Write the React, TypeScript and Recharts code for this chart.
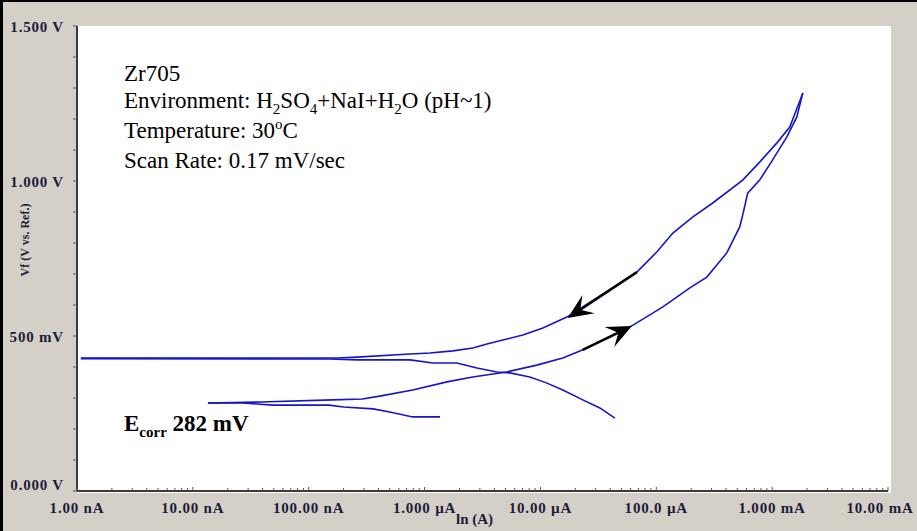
import React from 'react';
import { LineChart, Line, XAxis, YAxis, ReferenceLine } from 'recharts';

// forward scan, cathodic part (start potential down to the current minimum)
const fwdCathodicI = [1.36e-6, 7.9e-7, 5.0e-7, 3.6e-7, 2.0e-7, 1.5e-7, 4.9e-8, 2.7e-8, 1.35e-8];
const fwdCathodicV = [0.239, 0.239, 0.255, 0.265, 0.271, 0.277, 0.277, 0.284, 0.284];

// forward scan, anodic part up to the vertex
const fwdAnodicI = [
  1.35e-8, 3.8e-8, 1.6e-7, 2.9e-7, 4.1e-7, 7.9e-7, 1.56e-6, 2.6e-6, 5.1e-6, 9.3e-6, 1.56e-5, 2.3e-5,
  6.3e-5, 1.14e-4, 1.95e-4, 2.73e-4, 3.33e-4, 4.06e-4, 5.25e-4, 5.57e-4, 6.15e-4, 7.8e-4, 1.01e-3,
  1.34e-3, 1.63e-3, 1.84e-3,
];
const fwdAnodicV = [
  0.284, 0.287, 0.294, 0.297, 0.306, 0.326, 0.352, 0.368, 0.384, 0.406, 0.429, 0.455,
  0.535, 0.594, 0.655, 0.69, 0.729, 0.768, 0.852, 0.89, 0.961, 1.003, 1.068,
  1.142, 1.206, 1.284,
];

// reverse scan, anodic part back down to the repassivation potential
const revAnodicI = [
  1.84e-3, 1.42e-3, 1.1e-3, 7.8e-4, 5.57e-4, 3.07e-4, 2.07e-4, 1.39e-4, 1.01e-4, 6.8e-5, 3.26e-5,
  1.69e-5, 1.05e-5, 7.05e-6, 4.74e-6, 3.45e-6, 2.61e-6, 1.76e-6, 1.11e-6, 7.5e-7, 2.6e-7, 1.75e-7, 1.08e-9,
];
const revAnodicV = [
  1.284, 1.174, 1.123, 1.061, 1.003, 0.929, 0.884, 0.832, 0.771, 0.706, 0.629,
  0.561, 0.526, 0.503, 0.487, 0.474, 0.461, 0.452, 0.445, 0.442, 0.432, 0.429, 0.429,
];

// reverse scan, cathodic part
const revCathodicI = [1.08e-9, 1.52e-7, 2.6e-7, 7.5e-7, 1.18e-6, 1.9e-6, 2.83e-6, 4.21e-6, 5.45e-6, 8.1e-6, 1.14e-5, 1.56e-5, 2.32e-5, 3.26e-5, 4.39e-5];
const revCathodicV = [0.427, 0.426, 0.423, 0.423, 0.413, 0.413, 0.397, 0.384, 0.381, 0.368, 0.348, 0.326, 0.294, 0.268, 0.235];

// scan direction arrows [current, potential] from -> to
const arrowReverse = [[6.8e-5, 0.706], [1.72e-5, 0.558]];
const arrowForward = [[2.32e-5, 0.455], [6.16e-5, 0.532]];

const xDecades = [1e-9, 1e-8, 1e-7, 1e-6, 1e-5, 1e-4, 1e-3, 1e-2];
const xTickLabels = ['1.00 nA', '10.00 nA', '100.00 nA', '1.000 µA', '10.00 µA', '100.0 µA', '1.000 mA', '10.00 mA'];
const yTicks = [0, 0.1, 0.2, 0.3, 0.4, 0.5, 0.6, 0.7, 0.8, 0.9, 1.0, 1.1, 1.2, 1.3, 1.4, 1.5];
const yTickLabels: Record<string, string> = { '0': '0.000 V', '0.5': '500 mV', '1': '1.000 V', '1.5': '1.500 V' };

const zip = (xs: number[], ys: number[]) => xs.map((x, k) => ({ i: x, v: ys[k] }));

const xTicks: number[] = [];
xDecades.forEach((d, k) => {
  xTicks.push(d);
  if (k < xDecades.length - 1) for (let m = 2; m <= 9; m++) xTicks.push(m * d);
});

const serif = '"Liberation Serif", "Times New Roman", serif';
const tickColor = '#1c1c3a';
const blue = '#1616c8';

const XTick = (props: any) => {
  const { x, y, payload } = props;
  const lg = Math.log10(payload.value);
  const major = Math.abs(lg - Math.round(lg)) < 1e-6;
  const idx = Math.round(lg) + 9;
  const tx = idx === 7 ? x - 8 : x;
  return (
    <g>
      <line x1={x} x2={x} y1={y} y2={y - (major ? 4 : 3)} stroke="#555" />
      {major && (
        <text x={tx} y={y + 22} textAnchor="middle" fontFamily={serif} fontWeight="bold" fontSize={15} letterSpacing={0.8} fill={tickColor}>
          {xTickLabels[idx]}
        </text>
      )}
    </g>
  );
};

const YTick = (props: any) => {
  const { x, y, payload } = props;
  const label = yTickLabels[String(Math.round(payload.value * 10) / 10)];
  return (
    <g>
      <line x1={x - 4} x2={x} y1={y} y2={y} stroke="#555" />
      {label && (
        <text x={x - 13} y={payload.value === 0 ? y - 1 : y + 6} textAnchor="end" fontFamily={serif} fontWeight="bold" fontSize={15} letterSpacing={0.8} fill={tickColor}>
          {label}
        </text>
      )}
    </g>
  );
};

const ArrowShape = (props: any) => {
  const { x1, y1, x2, y2 } = props;
  const dx = x2 - x1;
  const dy = y2 - y1;
  const len = Math.sqrt(dx * dx + dy * dy) || 1;
  const ux = dx / len;
  const uy = dy / len;
  const nx = -uy;
  const ny = ux;
  const L = 25;
  const W = 11;
  const bx = x2 - ux * L;
  const by = y2 - uy * L;
  const notchX = x2 - ux * L * 0.6;
  const notchY = y2 - uy * L * 0.6;
  const pts = `${x2},${y2} ${bx + nx * W},${by + ny * W} ${notchX},${notchY} ${bx - nx * W},${by - ny * W}`;
  return (
    <g>
      <line x1={x1} y1={y1} x2={notchX} y2={notchY} stroke="#000" strokeWidth={2.5} />
      <polygon points={pts} fill="#000" />
    </g>
  );
};

const sub = { fontSize: 15, position: 'relative' as const, top: 6 };
const sup = { fontSize: 15, position: 'relative' as const, top: -9 };

const App = () => {
  return (
    <div style={{ position: 'fixed', left: 0, top: 0, width: 917, height: 531, background: '#d4d0c8', overflow: 'hidden' }}>
      <div style={{ position: 'absolute', left: 0, top: 0, width: 917, height: 2, background: '#000' }} />
      <div style={{ position: 'absolute', left: 0, top: 0, width: 3, height: 531, background: '#000' }} />
      <div style={{ position: 'absolute', left: 77, top: 26, width: 814, height: 467, background: '#fff' }} />

      <div style={{ position: 'absolute', left: 0, top: 0 }}>
        <LineChart width={917} height={531} margin={{ top: 26, right: 29, bottom: 0, left: 0 }}>
          <XAxis
            type="number"
            dataKey="i"
            scale="log"
            domain={[1e-9, 1e-2]}
            allowDataOverflow
            ticks={xTicks}
            interval={0}
            height={40}
            tickSize={0}
            tickMargin={0}
            tick={XTick}
            axisLine={{ stroke: '#3a3a3a', strokeWidth: 2 }}
          />
          <YAxis
            type="number"
            dataKey="v"
            domain={[0, 1.5]}
            ticks={yTicks}
            interval={0}
            width={77}
            tickSize={0}
            tickMargin={0}
            tick={YTick}
            axisLine={{ stroke: '#3a3a3a', strokeWidth: 2 }}
          />
          <Line data={zip(fwdCathodicI, fwdCathodicV)} dataKey="v" type="linear" stroke={blue} strokeWidth={1.6} dot={false} isAnimationActive={false} />
          <Line data={zip(fwdAnodicI, fwdAnodicV)} dataKey="v" type="linear" stroke={blue} strokeWidth={1.6} dot={false} isAnimationActive={false} />
          <Line data={zip(revAnodicI, revAnodicV)} dataKey="v" type="linear" stroke={blue} strokeWidth={1.6} dot={false} isAnimationActive={false} />
          <Line data={zip(revCathodicI, revCathodicV)} dataKey="v" type="linear" stroke={blue} strokeWidth={1.6} dot={false} isAnimationActive={false} />
          <ReferenceLine
            segment={[{ x: arrowReverse[0][0], y: arrowReverse[0][1] }, { x: arrowReverse[1][0], y: arrowReverse[1][1] }]}
            shape={ArrowShape}
            ifOverflow="visible"
          />
          <ReferenceLine
            segment={[{ x: arrowForward[0][0], y: arrowForward[0][1] }, { x: arrowForward[1][0], y: arrowForward[1][1] }]}
            shape={ArrowShape}
            ifOverflow="visible"
          />
        </LineChart>
      </div>

      <div style={{ position: 'absolute', left: 124, top: 60, fontFamily: serif, fontSize: 23, lineHeight: '27px', color: '#000', whiteSpace: 'nowrap' }}>
        <div>Zr705</div>
        <div>
          Environment: H<span style={sub}>2</span>SO<span style={sub}>4</span>+NaI+H<span style={sub}>2</span>O (pH~1)
        </div>
        <div>
          Temperature: 30<span style={sup}>o</span>C
        </div>
        <div>Scan Rate: 0.17 mV/sec</div>
      </div>

      <div style={{ position: 'absolute', left: 124, top: 410, fontFamily: serif, fontSize: 23, fontWeight: 'bold', lineHeight: '27px', whiteSpace: 'nowrap' }}>
        E<span style={sub}>corr</span> 282 mV
      </div>

      <div style={{ position: 'absolute', left: 456, top: 511, fontFamily: serif, fontSize: 15, fontWeight: 'bold', color: tickColor, whiteSpace: 'nowrap' }}>
        ln (A)
      </div>

      <div
        style={{
          position: 'absolute',
          left: 25,
          top: 240,
          transform: 'translate(-50%, -50%) rotate(-90deg)',
          fontFamily: serif,
          fontSize: 12,
          fontWeight: 'bold',
          color: tickColor,
          whiteSpace: 'nowrap',
        }}
      >
        Vf (V vs. Ref.)
      </div>
    </div>
  );
};

export default App;
